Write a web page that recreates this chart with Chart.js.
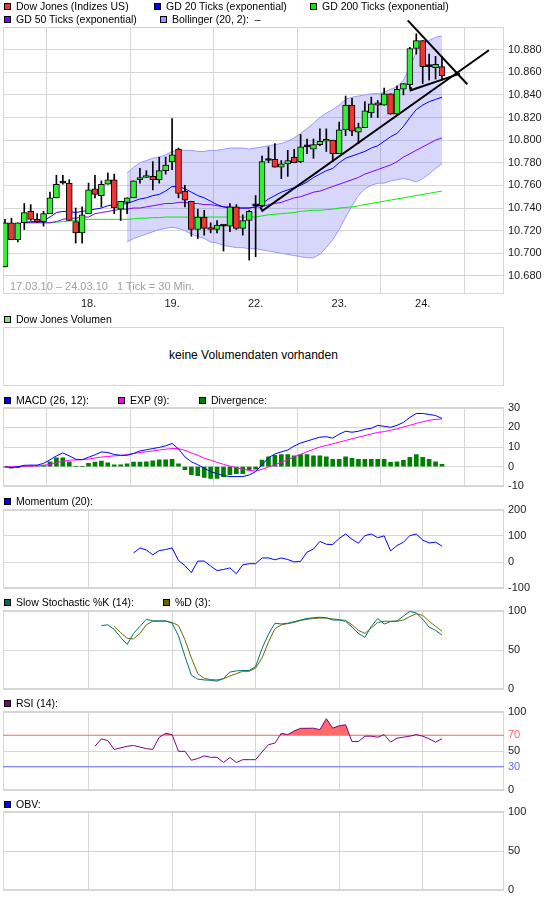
<!DOCTYPE html>
<html><head><meta charset="utf-8">
<script src="https://cdn.jsdelivr.net/npm/chart.js@4.4.1/dist/chart.umd.min.js"></script>
<style>
html,body{margin:0;padding:0;background:#fff;width:545px;height:913px;overflow:hidden;font-family:"Liberation Sans",Arial,sans-serif;}
canvas{position:absolute;left:0;}
.t{position:absolute;font-size:10.5px;line-height:13px;color:#000;white-space:pre;}
.b{position:absolute;width:5px;height:5px;border:1px solid #000;}
#vol{position:absolute;left:3px;top:327px;width:501px;height:59px;box-sizing:border-box;border:1px solid #d6d6d6;}
</style></head>
<body>
<canvas id="cPrice" width="545" height="313" style="top:0px"></canvas>
<div id="vol"></div>
<div class="t" style="left:0;width:507px;top:348px;text-align:center;font-size:12px;line-height:14px">keine Volumendaten vorhanden</div>
<canvas id="cMacd" width="545" height="100" style="top:397px"></canvas>
<canvas id="cMom" width="545" height="100" style="top:499px"></canvas>
<canvas id="cSto" width="545" height="100" style="top:600px"></canvas>
<canvas id="cRsi" width="545" height="100" style="top:701px"></canvas>
<canvas id="cObv" width="545" height="100" style="top:801px"></canvas>
<div class="t" style="left:10px;top:280px;color:#a0a0a0;font-size:11px">17.03.10 – 24.03.10   1 Tick = 30 Min.</div>
<div id="legends"></div>
<script>
// ---------- DATA ----------
const dayTicks  = [13, 26, 39, 52, 65];
const dayLabels = ['18.', '19.', '22.', '23.', '24.'];
const priceTicks = [10680, 10700, 10720, 10740, 10760, 10780, 10800, 10820, 10840, 10860, 10880];

const candleOpen  = [10688,10727,10712,10727,10737,10730,10728,10735,10749,10762,10762,10728,10718,10735,10757,10751,10761,10765,10739,10745,10749,10765,10767,10768,10765,10773,10781,10792,10755,10746,10721,10732,10722,10721,10724,10724,10741,10722,10729,10742,10742,10782,10783,10776,10779,10785,10781,10794,10792,10796,10799,10800,10788,10809,10831,10807,10811,10824,10833,10831,10841,10823,10845,10849,10881,10888,10865,10864,10865];
const candleHigh  = [10730,10731,10727,10744,10743,10735,10737,10754,10769,10769,10765,10740,10741,10762,10769,10764,10771,10770,10746,10749,10764,10775,10773,10781,10785,10785,10819,10793,10760,10746,10739,10738,10727,10729,10725,10744,10743,10734,10738,10751,10786,10794,10797,10782,10791,10792,10805,10801,10801,10810,10810,10800,10816,10839,10837,10815,10834,10838,10835,10846,10841,10848,10850,10882,10894,10888,10876,10874,10874];
const candleLow   = [10688,10712,10710,10721,10729,10727,10724,10735,10749,10761,10729,10709,10709,10735,10749,10741,10761,10735,10729,10735,10749,10762,10767,10756,10762,10770,10774,10749,10741,10715,10713,10716,10718,10718,10702,10719,10721,10716,10694,10697,10741,10780,10776,10766,10768,10780,10780,10788,10784,10795,10790,10781,10788,10804,10804,10797,10811,10820,10820,10831,10823,10823,10840,10846,10876,10850,10853,10854,10853];
const candleClose = [10727,10712,10727,10736,10730,10728,10735,10749,10761,10762,10729,10718,10734,10756,10752,10761,10765,10740,10746,10749,10764,10767,10768,10765,10773,10778,10787,10753,10747,10721,10732,10722,10721,10725,10724,10741,10722,10729,10737,10742,10781,10782,10776,10779,10782,10780,10794,10794,10796,10799,10800,10788,10809,10831,10808,10811,10826,10832,10831,10841,10823,10845,10850,10881,10888,10865,10865,10867,10857];

const N = null;
const gd20  = [N,N,N,10727,10728,10728,10729,10732,10736,10737,10737,10736,10737,10738,10739,10740,10742,10743,10743,10744,10746,10748,10749,10751,10752,10755,10759,10759,10757,10754,10751,10749,10746,10743,10741,10740,10740,10740,10740,10741,10744,10748,10751,10754,10756,10758,10760,10763,10767,10770,10773,10775,10780,10784,10786,10788,10790,10793,10795,10799,10803,10806,10812,10820,10827,10831,10834,10836,10838];
const gd50  = [N,N,N,10727,10727,10727,10727,10727,10728,10730,10731,10731,10732,10732,10735,10736,10737,10738,10739,10739,10740,10740,10741,10742,10743,10744,10744,10745,10745,10744,10744,10743,10743,10742,10741,10741,10740,10740,10740,10741,10741,10743,10744,10745,10747,10749,10750,10752,10754,10755,10757,10759,10761,10763,10765,10767,10770,10772,10774,10776,10778,10781,10785,10788,10791,10794,10797,10800,10802];
const gd200 = [N,N,N,10727,10727,10727,10727,10727,10727.5,10728,10728.5,10729,10729.5,10730,10730,10730,10730,10730,10730,10730,10730.5,10731,10731,10731.5,10731.5,10732,10732,10732,10732,10732,10732,10732,10732,10732,10732,10732,10732,10732,10732,10732,10733,10734,10734.5,10735,10735.5,10736,10737,10737.5,10738,10738,10738.5,10739,10740,10740.5,10741,10742,10743,10744,10745,10746,10747,10748,10749,10750,10751,10752,10753,10754,10755];
const bollUpper = [N,N,N,N,N,N,N,N,N,N,N,N,N,N,N,N,N,N,N,10771,10776,10780,10782,10784,10785,10787,10790,10791,10791,10791,10790,10790,10791,10791,10792,10793,10793,10793,10792,10793,10794,10795,10796,10797,10799,10802,10806,10810,10815,10820,10824,10827,10831,10836,10838,10839,10840,10841,10841,10842,10845,10847,10853,10864,10878,10885,10888,10891,10892];
const bollLower = [N,N,N,N,N,N,N,N,N,N,N,N,N,N,N,N,N,N,N,10710,10713,10715,10717,10719,10721,10722,10723,10722,10720,10717,10715,10713,10710,10709,10707,10706,10705,10705,10704,10704,10703,10702,10701,10700,10699,10698,10697,10696,10696,10699,10705,10712,10721,10732,10742,10751,10757,10760,10762,10762,10764,10765,10766,10765,10763,10766,10770,10775,10779];

// drawn trend lines (bar index, price)
const trendUpX   = [39.7, 40.05, 75.3];
const trendUpY   = [10741, 10737.6, 10879.4];
const trendDownX = [62.67, 71.94];
const trendDownY = [10905.9, 10849.4];
const trendLowX  = [63.03, 63.13, 70.8];
const trendLowY  = [10847, 10844.1, 10858.8];

const macdLine = [0,-0.5,0,0.7,0.8,0.8,1.7,3.5,5.5,7,5.5,3.8,3.5,4.8,6,7.5,7.2,6.2,5.8,5.8,6.7,8,8.6,9.2,9.8,10.6,11.8,9,5,2.5,1,-0.8,-2.5,-3.5,-4.5,-5,-5,-5,-4.2,-2.5,1,4.5,6.5,7.5,8.5,10.5,12,13,14,15,15.2,14.5,16.5,18,17.5,18,19,19.5,21,20.5,20,21,22.5,25,27,27,26.5,26,24.5];
const macdExp  = [0,0,0,0.2,0.3,0.4,0.6,1.2,2,2.8,3.3,3.4,3.6,3.9,4.4,4.9,5.2,5.5,5.7,6.1,6.7,7.2,7.6,8,8.5,8.9,9.2,9.2,8.3,7,5.8,4.3,3.3,2.2,1.2,0.3,-0.5,-1.3,-1.9,-2.2,-1.3,-0.2,1,2.2,3.5,5,6.3,7.6,8.8,10,10.8,11.6,12.5,13.3,14.2,15,15.8,16.6,17.4,17.8,18.5,19.2,20.2,21,22,22.8,23.5,24,24.2];
const macdDiv  = [-0.3,-0.8,-0.5,0.5,0.4,0.3,0.8,2.5,4.5,4.5,2.5,0,0,1.7,2.3,2.8,2,1,1,1.5,2.3,2.3,2.5,3,3.5,3.5,3.7,1.5,-1.5,-4,-4.5,-5.5,-6,-6,-5,-4,-3.5,-3.5,-1.5,-1.2,3.3,5,5.8,6.2,6.2,5.5,6.2,6.2,5.5,5.5,5,3.7,3.7,5,4.2,3.7,3.7,3.7,3.7,3.7,2.2,2.5,3.2,4.7,6.2,4.7,3.7,2.5,1.2];

const momentum = [N,N,N,N,N,N,N,N,N,N,N,N,N,N,N,N,N,N,N,N,35,54,46,28,44,48,54,6,-13,-40,4,4,-15,-32,-28,-22,-44,-10,-6,-6,16,16,9,16,10,1,3,38,50,79,68,67,90,107,87,72,101,107,93,100,43,63,76,101,107,84,73,76,61];

const stochK = [N,N,N,N,N,N,N,N,N,N,N,N,N,N,N,81,82,76,66,57,71,80,89,87,87,87,84,68,42,18,13,12,11.5,10.5,14,22,23.5,24,24,29,52,70,84,83,84,86,88,90,91,91.6,91,88,88,86.5,79,71,66,80,90,83,86,87,93,99,97,89,79,75,69];
const stochD = [N,N,N,N,N,N,N,N,N,N,N,N,N,N,N,N,N,80,72,65,64,71,82,86.5,86.5,86.5,85,81,63,40,20,14,12.5,12,13.5,17,20,23,23,27,40,60,77,82,83.5,85,87.5,89,90,90.5,90.5,89.5,88.5,87.5,82,75,71,78,85,86.5,86.5,86.5,88,92.5,96,94,86.5,80,74];

const rsi = [N,N,N,N,N,N,N,N,N,N,N,N,N,N,56,65.4,63.3,52,54,56,57,55,53,52,67.5,72.5,70.8,49.6,49.6,38.3,40.4,43.8,42,42,35.4,41.7,35.4,39,39,39,48.8,58,60,72.5,70.8,75.4,78.8,78.8,79,77,91,79,82,83.3,62,62,68.8,68.8,67.5,70.8,61.3,66.3,67.5,68.8,70.8,68.8,65.4,61.3,65.4];
const rsiUpper = 70, rsiLower = 30;

// ---------- RENDER ----------
const FONT = '"Liberation Sans", Arial, sans-serif';
const GRID = '#d6d6d6';
const TXT = '#1a1a1a';
const RED = '#ff6262', BLUE = '#6464ff';
const X_MIN = -0.311, X_MAX = 77.65;
const pts = arr => arr.map((v, i) => ({x: i, y: v}));
const xy = (xs, ys) => xs.map((x, i) => ({x, y: ys[i]}));
const hline = v => [{x: X_MIN, y: v}, {x: X_MAX, y: v}];

const framePlugin = {id: 'frame', beforeDatasetsDraw(chart) {
  const {ctx, chartArea: a} = chart;
  ctx.save(); ctx.strokeStyle = GRID; ctx.lineWidth = 1;
  const l = Math.round(a.left), t = Math.round(a.top), r = Math.round(a.right), b = Math.round(a.bottom);
  ctx.strokeRect(l + 0.5, t + 0.5, r - l - 1, b - t - 1);
  ctx.restore();
}};

function xScale(showLabels) {
  return {type: 'linear', min: X_MIN, max: X_MAX, offset: false,
    afterBuildTicks: a => { a.ticks = dayTicks.map(v => ({value: v})); },
    grid: {color: GRID, drawTicks: false},
    border: {display: false},
    ticks: {display: showLabels, autoSkip: false, maxRotation: 0, padding: 3,
      font: {size: 11, family: FONT}, color: TXT,
      callback: (v, i) => dayLabels[i]},
    afterFit: s => { s.height = showLabels ? 19 : 0; }
  };
}
function yScale(min, max, ticks, fmt, gridColor, labelColor) {
  return {type: 'linear', position: 'right', min, max,
    afterBuildTicks: a => { a.ticks = ticks.map(v => ({value: v})); },
    grid: {color: gridColor || GRID, drawTicks: false},
    border: {display: false},
    ticks: {padding: 4, autoSkip: false, font: {size: 11, family: FONT}, color: labelColor || TXT,
      callback: fmt || (v => String(v))},
    afterFit: s => { s.width = 41; }
  };
}
const baseOpts = (padTop, padBottom, x, y) => ({
  responsive: false, animation: false, events: [],
  layout: {padding: {left: 3, right: 0, top: padTop, bottom: padBottom}},
  plugins: {legend: {display: false}, tooltip: {enabled: false}},
  scales: {x, y}
});
const lineDs = (data, color, order, extra) => Object.assign({type: 'line', data, borderColor: color, borderWidth: 1,
  pointRadius: 0, tension: 0, fill: false, order}, extra || {});

// Price panel
const bodyColors = candleOpen.map((o, i) => candleClose[i] > o ? '#33ee33' : (candleClose[i] < o ? '#f03535' : '#000'));
new Chart(document.getElementById('cPrice'), {
  type: 'line',
  data: {datasets: [
    lineDs(pts(bollUpper), '#9999ff', 20, {fill: '+1', backgroundColor: 'rgba(110,110,240,0.28)'}),
    lineDs(pts(bollLower), '#9999ff', 19),
    lineDs(pts(gd200), '#00ee00', 18),
    lineDs(pts(gd50), '#8000ff', 17),
    lineDs(pts(gd20), '#0000ff', 16),
    {type: 'bar', data: candleLow.map((l, i) => ({x: i, y: [l, candleHigh[i]]})), backgroundColor: '#000',
      barThickness: 1, grouped: false, order: 10},
    {type: 'bar', data: candleOpen.map((o, i) => ({x: i, y: [o, candleClose[i]]})), backgroundColor: bodyColors,
      borderColor: '#000', borderWidth: 1, borderSkipped: false, barThickness: 6, minBarLength: 2, grouped: false, order: 9},
    lineDs(xy(trendUpX, trendUpY), '#000', 1, {borderWidth: 2, clip: false}),
    lineDs(xy(trendDownX, trendDownY), '#000', 1, {borderWidth: 2, clip: false}),
    lineDs(xy(trendLowX, trendLowY), '#000', 1, {borderWidth: 2, clip: false})
  ]},
  options: baseOpts(27, 0, xScale(true),
    yScale(10664, 10900, priceTicks, v => (v / 1000).toFixed(3))),
  plugins: [framePlugin]
});

// MACD
new Chart(document.getElementById('cMacd'), {
  type: 'line',
  data: {datasets: [
    {type: 'bar', data: pts(macdDiv), backgroundColor: '#008000', barThickness: 4, grouped: false, order: 5},
    lineDs(pts(macdExp), '#ff00ff', 2),
    lineDs(pts(macdLine), '#0000ff', 1)
  ]},
  options: baseOpts(10, 10, xScale(false), yScale(-10, 30, [-10, 0, 10, 20, 30])),
  plugins: [framePlugin]
});

// Momentum
new Chart(document.getElementById('cMom'), {
  type: 'line',
  data: {datasets: [lineDs(pts(momentum), '#0000ff', 1)]},
  options: baseOpts(10, 10, xScale(false), yScale(-100, 200, [-100, 0, 100, 200])),
  plugins: [framePlugin]
});

// Slow Stochastic
new Chart(document.getElementById('cSto'), {
  type: 'line',
  data: {datasets: [lineDs(pts(stochD), '#6b6b00', 2), lineDs(pts(stochK), '#007373', 1)]},
  options: baseOpts(10, 10, xScale(false), yScale(0, 100, [0, 50, 100])),
  plugins: [framePlugin]
});

// RSI
const rsiLabelColor = c => c.tick.value === rsiUpper ? RED : (c.tick.value === rsiLower ? BLUE : TXT);
const rsiGridColor = c => (c.tick.value === rsiUpper || c.tick.value === rsiLower) ? 'rgba(0,0,0,0)' : GRID;
new Chart(document.getElementById('cRsi'), {
  type: 'line',
  data: {datasets: [
    lineDs(hline(rsiUpper), RED, 5),
    lineDs(hline(rsiLower), BLUE, 5),
    lineDs(pts(rsi), '#800080', 1, {fill: {target: {value: rsiUpper}, above: '#ff6b6b', below: 'rgba(255,255,255,0)'}})
  ]},
  options: baseOpts(10, 10, xScale(false), yScale(0, 100, [0, rsiLower, 50, rsiUpper, 100], null,
    rsiGridColor, rsiLabelColor)),
  plugins: [framePlugin]
});

// OBV (empty)
new Chart(document.getElementById('cObv'), {
  type: 'line',
  data: {datasets: []},
  options: baseOpts(10, 10, xScale(false), yScale(0, 100, [0, 50, 100])),
  plugins: [framePlugin]
});

// legends (HTML text)
const legendItems = [
  [4, 0, '#f03535', 'Dow Jones (Indizes US)'], [154, 0, '#0000ff', 'GD 20 Ticks (exponential)'], [310, 0, '#00ee00', 'GD 200 Ticks (exponential)'],
  [4, 13, '#8000ff', 'GD 50 Ticks (exponential)'], [160, 13, '#9999ff', 'Bollinger (20, 2):  –'],
  [4, 313, '#7de37d', 'Dow Jones Volumen'],
  [4, 394, '#0000ff', 'MACD (26, 12):'], [118, 394, '#ff00ff', 'EXP (9):'], [199, 394, '#008000', 'Divergence:'],
  [4, 495, '#0000ff', 'Momentum (20):'],
  [4, 596, '#006666', 'Slow Stochastic %K (14):'], [163, 596, '#666600', '%D (3):'],
  [4, 697, '#800080', 'RSI (14):'],
  [4, 798, '#0000ff', 'OBV:']
];
const lg = document.getElementById('legends');
legendItems.forEach(([x, y, c, t]) => {
  const b = document.createElement('div'); b.className = 'b';
  b.style.left = x + 'px'; b.style.top = (y + 3) + 'px'; b.style.background = c; lg.appendChild(b);
  const s = document.createElement('div'); s.className = 't';
  s.style.left = (x + 12) + 'px'; s.style.top = y + 'px'; s.textContent = t; lg.appendChild(s);
});
</script>
</body></html>
